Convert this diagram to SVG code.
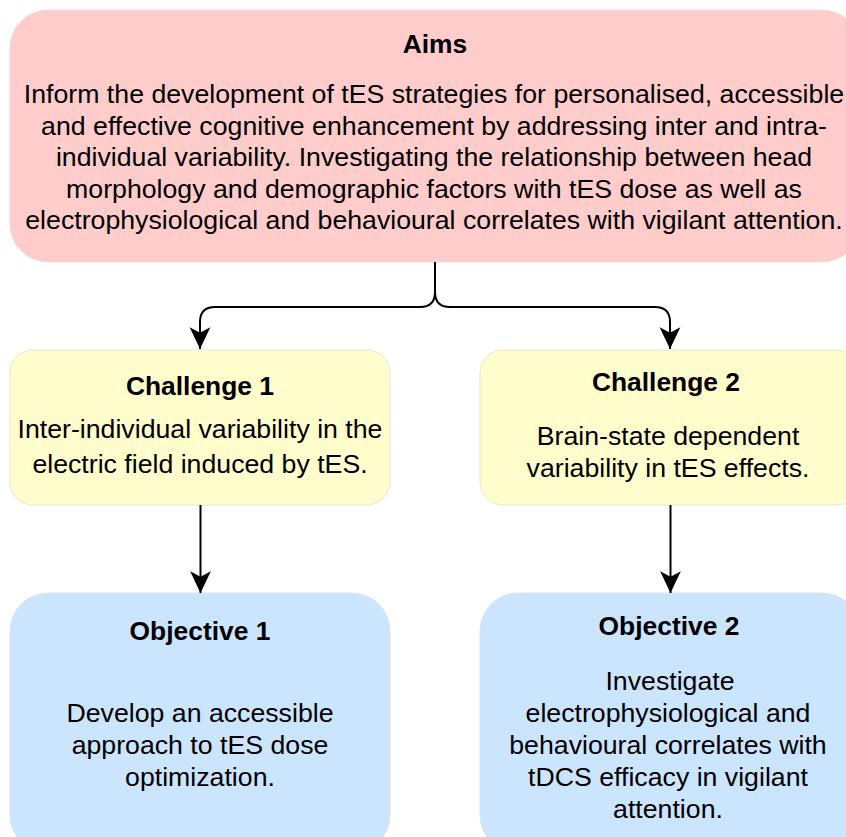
<svg xmlns="http://www.w3.org/2000/svg" width="846" height="837" viewBox="0 0 846 837">
  <style>
    text { font-family: "Liberation Sans", Arial, Helvetica, sans-serif; font-size: 26.7px; fill: #000; text-anchor: middle; }
    .title { font-weight: bold; font-size: 26.4px; }
    .aims { fill: #ffcccc; stroke: #e6dede; stroke-width: 1; }
    .challenge { fill: #fffdcc; stroke: #e6e6d6; stroke-width: 1; }
    .objective { fill: #cce5ff; stroke: #dde3ea; stroke-width: 1; }
    .link { fill: none; stroke: #000; stroke-width: 2; }
  </style>
  <defs>
    <marker id="arrow" markerUnits="userSpaceOnUse" markerWidth="24" markerHeight="24" viewBox="-21 -11 22 22" refX="0" refY="0" orient="auto">
      <path d="M0,0 L-20,-9.5 L-15,0 L-20,9.5 Z" fill="#000"/>
    </marker>
  </defs>

  <!-- Aims -->
  <g id="aims">
    <rect class="aims" x="10" y="10" width="850" height="252" rx="38" ry="38"/>
    <text class="title" x="435" y="52.5">Aims</text>
    <text x="434" y="103">Inform the development of tES strategies for personalised, accessible</text>
    <text x="434" y="134.5">and effective cognitive enhancement by addressing inter and intra-</text>
    <text x="434" y="166">individual variability. Investigating the relationship between head</text>
    <text x="434" y="197.5">morphology and demographic factors with tES dose as well as</text>
    <text x="434" y="229">electrophysiological and behavioural correlates with vigilant attention.</text>
  </g>

  <!-- Challenge 1 -->
  <g id="challenge1">
    <rect class="challenge" x="10" y="350" width="380" height="155" rx="23" ry="23"/>
    <text class="title" x="200" y="394.5">Challenge 1</text>
    <text x="200" y="438">Inter-individual variability in the</text>
    <text x="200" y="473">electric field induced by tES.</text>
  </g>

  <!-- Challenge 2 -->
  <g id="challenge2">
    <rect class="challenge" x="480" y="350" width="380" height="155" rx="23" ry="23"/>
    <text class="title" x="666" y="390.5">Challenge 2</text>
    <text x="668" y="445">Brain-state dependent</text>
    <text x="668" y="477">variability in tES effects.</text>
  </g>

  <!-- Objective 1 -->
  <g id="objective1">
    <rect class="objective" x="10" y="593" width="380" height="260" rx="38" ry="38"/>
    <text class="title" x="200" y="639.5">Objective 1</text>
    <text x="200" y="722">Develop an accessible</text>
    <text x="200" y="754">approach to tES dose</text>
    <text x="200" y="786">optimization.</text>
  </g>

  <!-- Objective 2 -->
  <g id="objective2">
    <rect class="objective" x="480" y="593" width="380" height="260" rx="38" ry="38"/>
    <text class="title" x="669" y="634.5">Objective 2</text>
    <text x="670" y="690">Investigate</text>
    <text x="668" y="722">electrophysiological and</text>
    <text x="668" y="754">behavioural correlates with</text>
    <text x="668" y="786">tDCS efficacy in vigilant</text>
    <text x="668" y="818">attention.</text>
  </g>

  <!-- Connectors -->
  <g id="connectors">
    <path class="link" d="M435,262 V292 Q435,307 420,307 H215 Q200,307 200,322 V349" marker-end="url(#arrow)"/>
    <path class="link" d="M435,292 Q435,307 450,307 H655 Q670,307 670,322 V349" marker-end="url(#arrow)"/>
    <path class="link" d="M200.5,505 V593" marker-end="url(#arrow)"/>
    <path class="link" d="M670.5,505 V593" marker-end="url(#arrow)"/>
  </g>
</svg>
